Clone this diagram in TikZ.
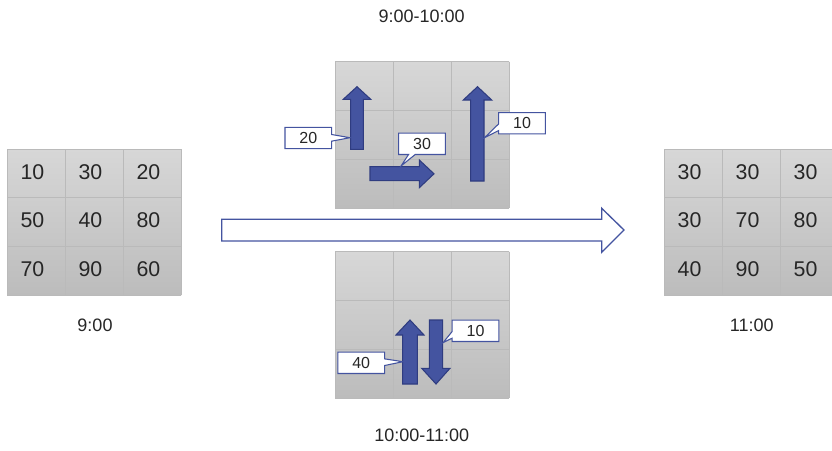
\documentclass[tikz,border=0pt]{standalone}
\usepackage{fontspec}
\setmainfont{Liberation Sans}
\usetikzlibrary{shapes.callouts}

\definecolor{arrowBlue}{RGB}{68,84,160}
\definecolor{arrowEdge}{RGB}{47,60,128}
\definecolor{cellTop}{RGB}{215,215,215}
\definecolor{cellBot}{RGB}{188,188,188}
\definecolor{gridLine}{RGB}{186,186,186}
\definecolor{textGray}{RGB}{38,38,38}

\begin{document}
\begin{tikzpicture}[x=0.75pt,y=0.75pt,yscale=-1,xscale=1,
  cellnum/.style={font=\fontsize{16}{18}\selectfont, text=textGray},
  timelabel/.style={font=\fontsize{13.5}{15}\selectfont, text=textGray},
  blockarrow/.style={fill=arrowBlue, draw=arrowEdge, line width=0.8},
  tag/.style={rectangle callout, draw=arrowBlue, fill=white, line width=0.8,
    font=\fontsize{12}{14}\selectfont, text=textGray, inner sep=1pt,
    minimum width=35pt, minimum height=16pt, callout pointer width=5pt}]
    \path[use as bounding box] (0,0) rectangle (832,450); %page = 832 x 450

    % the four 3x3 grids
    \foreach \gx/\gy in {7/149, 335/61.7, 335/251.7, 664/149} {
      \shade[top color=cellTop, bottom color=cellBot] (\gx,\gy) rectangle ++(174,146);
      \foreach \k in {0,...,3} {
        \draw[gridLine] ({\gx+58*\k},\gy) -- ++(0,146);
        \draw[gridLine] (\gx,{\gy+48.7*\k}) -- ++(174,0);
      }
    }

    % values at 9:00 and at 11:00
    \foreach \v [count=\i from 0] in {10,30,20,50,40,80,70,90,60} {
      \pgfmathtruncatemacro\c{mod(\i,3)}
      \pgfmathtruncatemacro\r{div(\i,3)}
      \node[cellnum] (s\i) at ({32.5+58*\c},{171.8+48.7*\r}) {\v};
    }
    \foreach \v [count=\i from 0] in {30,30,30,30,70,80,40,90,50} {
      \pgfmathtruncatemacro\c{mod(\i,3)}
      \pgfmathtruncatemacro\r{div(\i,3)}
      \node[cellnum] (e\i) at ({689.5+58*\c},{171.8+48.7*\r}) {\v};
    }

    % big arrow
    \draw[draw=arrowBlue, fill=white, line width=1] (221.7,219.3) -- (601.7,219.3) -- (601.7,208.3) -- (624,230) -- (601.7,252.3) -- (601.7,241) -- (221.7,241) -- cycle;

    % moves 9:00-10:00
    \draw[blockarrow] (350.7,149.3) -- (350.7,99.3) -- (343.3,99.3) -- (357,86.7) -- (370.7,99.3) -- (363.3,99.3) -- (363.3,149.3) -- cycle;
    \draw[blockarrow] (470.7,181) -- (470.7,100) -- (463.3,100) -- (477.5,86.7) -- (491.7,100) -- (484,100) -- (484,181) -- cycle;
    \draw[blockarrow] (370,166.7) -- (419.3,166.7) -- (419.3,160) -- (434,173.8) -- (419.3,187.7) -- (419.3,180.7) -- (370,180.7) -- cycle;

    % moves 10:00-11:00
    \draw[blockarrow] (402.7,384) -- (402.7,335) -- (396,335) -- (410,320) -- (424,335) -- (417.3,335) -- (417.3,384) -- cycle;
    \draw[blockarrow] (429.3,320) -- (442.7,320) -- (442.7,368.3) -- (450,368.3) -- (436,384) -- (421.7,368.3) -- (429.3,368.3) -- cycle;

    % where the tags point
    \coordinate (upLeft) at (350,137.7);
    \coordinate (rightTop) at (401,166);
    \coordinate (upRight) at (484.5,137.7);
    \coordinate (downTop) at (443,342.7);
    \coordinate (upBottom) at (403,361.7);

    \node[tag, callout absolute pointer={(upLeft)}] (tag20) at (308.3,138) {20};
    \node[tag, callout absolute pointer={(rightTop)}] (tag30) at (422,143.8) {30};
    \node[tag, callout absolute pointer={(upRight)}] (tag10a) at (522,123.2) {10};
    \node[tag, callout absolute pointer={(downTop)}] (tag10b) at (475.5,330.8) {10};
    \node[tag, callout absolute pointer={(upBottom)}] (tag40) at (361.2,362.8) {40};

    % time labels
    \node[timelabel] (tFirst) at (421.7,16) {9:00-10:00};
    \node[timelabel] (tSecond) at (421.7,435.7) {10:00-11:00};
    \node[timelabel] (tStart) at (95,325) {9:00};
    \node[timelabel] (tEnd) at (751.7,325) {11:00};

\end{tikzpicture}
\end{document}
